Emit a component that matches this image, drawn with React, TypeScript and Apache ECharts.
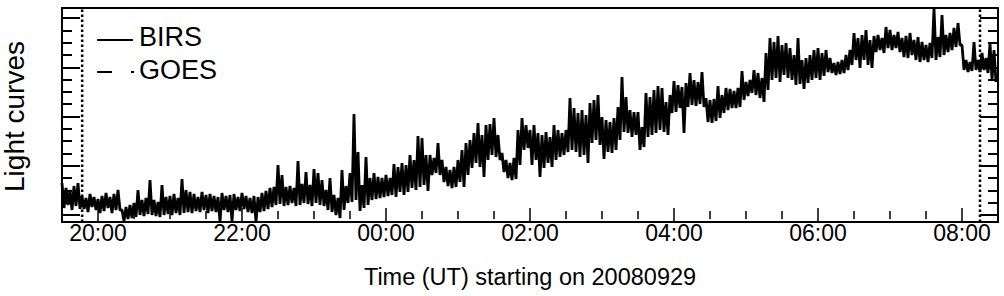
import React, { useEffect, useRef } from "react";
import * as echarts from "echarts";

// BIRS light curve, 20080929, sampled every 100 s starting 19:30 UT (hours since 00:00 UT on 20080929)
const START_HOUR = 19.5;
const CADENCE_S = 100;
const birs: number[] = [
  39,14, 34,17, 32,12, 36,16, 39,13, 26,13, 24,10, 28,15, 25,12, 23,9,
  26,11, 29,14, 25,9, 28,12, 32,12, 12,1, 15,3, 17,4, 19,5, 32,7,
  22,6, 24,8, 42,7, 22,6, 20,5, 37,7, 25,8, 26,7, 28,9, 24,7,
  43,9, 32,10, 30,9, 28,11, 25,10, 30,12, 27,9, 28,11, 26,10, 25,0,
  29,12, 26,10, 27,1, 28,12, 25,11, 29,13, 26,10, 24,9, 26,0, 25,10,
  29,11, 31,13, 34,15, 35,17, 57,18, 47,16, 35,17, 36,19, 34,16, 61,17,
  38,19, 50,18, 37,16, 53,19, 49,17, 42,16, 32,12, 44,10, 27,7, 24,4,
  52,12, 36,19, 49,20, 108,22, 70,11, 37,14, 65,17, 44,22, 49,23, 45,24,
  44,25, 47,26, 44,27, 58,25, 55,30, 59,27, 57,30, 67,34, 62,32, 86,35,
  84,37, 67,31, 67,47, 64,49, 79,47, 62,40, 55,36, 52,34, 55,35, 62,40,
  72,35, 79,47, 82,54, 89,59, 99,55, 87,45, 97,62, 98,67, 104,65, 87,62,
  69,50, 62,44, 59,42, 64,43, 92,57, 104,72, 97,74, 92,57, 97,62, 89,45,
  87,54, 90,59, 85,55, 97,62, 92,65, 89,67, 92,70, 124,72, 114,70, 109,65,
  112,67, 107,59, 119,79, 122,82, 127,77, 105,63, 102,70, 100,69, 104,72, 115,82,
  145,90, 125,89, 112,85, 110,87, 110,72, 95,75, 129,85, 125,87, 132,89, 136,92,
  134,90, 120,87, 127,109, 141,110, 137,114, 135,89, 139,115, 149,117, 142,116, 140,118,
  150,115, 124,100, 122,99, 123,101, 136,104, 127,109, 134,112, 133,114, 131,114, 134,115,
  151,122, 140,126, 142,129, 152,127, 149,124, 144,120, 169,132, 184,142, 180,144, 186,140,
  177,147, 179,144, 174,142, 167,137, 184,138, 162,133, 164,139, 167,142, 172,144, 174,142,
  169,146, 172,150, 164,149, 159,147, 160,148, 162,149, 167,152, 172,157, 189,162, 184,154,
  187,162, 192,157, 182,154, 186,170, 187,172, 184,169, 195,174, 192,172, 187,174, 190,170,
  184,165, 186,164, 189,167, 182,162, 185,160, 180,162, 177,160, 179,164, 214,162, 185,165,
  207,167, 187,170, 189,172, 194,175, 199,177, 177,152, 162,150, 160,151, 180,152, 162,150,
  169,152, 164,149, 179,142, 172,140,
];
const goes: number[] = [];

// interval boundaries (dotted verticals), hours
const intervalMarks = [19.78, 32.25];

// axis extents
const X_MIN = 19.5;
const X_MAX = 32.5;
const Y_MIN = 0;
const Y_MAX = 214;
const X_TICK_FIRST = 20;
const X_TICK_LAST = 32;
const X_TICK_STEP = 2;

const FONT = "'Liberation Sans', Arial, Helvetica, sans-serif";

function hourLabel(v: number): string {
  const h = ((Math.round(v) % 24) + 24) % 24;
  return `${String(h).padStart(2, "0")}:00`;
}

export default function App() {
  const ref = useRef<HTMLDivElement>(null);
  useEffect(() => {
    if (!ref.current) return;
    const chart = echarts.init(ref.current, undefined, { renderer: "svg" });
    const data = birs.map((v, i) => [START_HOUR + (i * CADENCE_S) / 3600, v]);

    const xTickCommon = {
      type: "value",
      gridIndex: 1,
      min: X_TICK_FIRST,
      max: X_TICK_LAST,
      interval: X_TICK_STEP,
      axisLine: { show: false },
      axisTick: { show: true, inside: true, length: 7, lineStyle: { color: "#000", width: 1.5 } },
      minorTick: { show: true, splitNumber: 4, length: 4, lineStyle: { color: "#000", width: 1.5 } },
      splitLine: { show: false },
      minorSplitLine: { show: false },
    };
    const yTickCommon = {
      type: "value",
      gridIndex: 1,
      min: 0,
      max: 16,
      interval: 4,
      offset: 36,
      axisLine: { show: false },
      axisTick: { show: true, inside: true, length: 18, lineStyle: { color: "#000", width: 2 } },
      minorTick: { show: true, splitNumber: 4, length: 10, lineStyle: { color: "#000", width: 2 } },
      axisLabel: { show: false },
      splitLine: { show: false },
      minorSplitLine: { show: false },
    };

    const markSeries = intervalMarks.map((h, i) => ({
      name: `interval-${i}`,
      type: "line",
      xAxisIndex: 0,
      yAxisIndex: 0,
      data: [[h, Y_MIN], [h, Y_MAX]],
      showSymbol: false,
      symbol: "none",
      silent: true,
      lineStyle: { color: "#000", width: 2.5, type: [2.5, 2.5], cap: "butt" },
    }));

    const option: any = {
      animation: false,
      backgroundColor: "#fff",
      textStyle: { fontFamily: FONT, color: "#000" },
      grid: [
        { left: 62, top: 8, width: 936, height: 214, show: true, borderColor: "#000", borderWidth: 2, backgroundColor: "transparent", outerBoundsMode: "none", containLabel: false },
        { left: 98, top: 18, width: 864, height: 197, show: false, outerBoundsMode: "none", containLabel: false },
      ],
      xAxis: [
        { type: "value", gridIndex: 0, min: X_MIN, max: X_MAX, show: false },
        {
          ...xTickCommon,
          position: "bottom",
          offset: 7,
          axisLabel: { show: true, formatter: hourLabel, color: "#000", fontSize: 23, fontFamily: FONT, margin: -1 },
          name: "Time (UT) starting on 20080929",
          nameLocation: "middle",
          nameGap: 43,
          nameTextStyle: { color: "#000", fontSize: 23.5, fontFamily: FONT },
        },
        { ...xTickCommon, position: "top", offset: 10, axisLabel: { show: false } },
      ],
      yAxis: [
        { type: "value", gridIndex: 0, min: Y_MIN, max: Y_MAX, show: false },
        {
          ...yTickCommon,
          position: "left",
          name: "Light curves",
          nameLocation: "middle",
          nameRotate: 90,
          nameGap: 34,
          nameTextStyle: { color: "#000", fontSize: 28, fontFamily: FONT },
        },
        { ...yTickCommon, position: "right" },
      ],
      series: [
        ...markSeries,
        {
          name: "BIRS",
          type: "line",
          xAxisIndex: 0,
          yAxisIndex: 0,
          data,
          showSymbol: false,
          symbol: "none",
          lineStyle: { color: "#000", width: 2.8, join: "bevel" },
        },
        {
          name: "GOES",
          type: "line",
          xAxisIndex: 0,
          yAxisIndex: 0,
          data: goes,
          showSymbol: false,
          lineStyle: { color: "#000", width: 2, type: [15, 17, 3, 0] },
        },
      ],
      graphic: [
        { type: "line", shape: { x1: 97, y1: 40, x2: 133, y2: 40 }, style: { stroke: "#000", lineWidth: 2 } },
        { type: "text", x: 139, y: 37, style: { text: "BIRS", fontSize: 27, fontFamily: FONT, fill: "#000", verticalAlign: "middle", align: "left" } },
        { type: "line", shape: { x1: 97, y1: 72, x2: 112, y2: 72 }, style: { stroke: "#000", lineWidth: 2 } },
        { type: "line", shape: { x1: 131, y1: 72, x2: 134, y2: 72 }, style: { stroke: "#000", lineWidth: 2 } },
        { type: "text", x: 139, y: 70, style: { text: "GOES", fontSize: 27, fontFamily: FONT, fill: "#000", verticalAlign: "middle", align: "left" } },
      ],
    };
    chart.setOption(option);
    return () => chart.dispose();
  }, []);
  return <div ref={ref} style={{ position: "fixed", left: 0, top: 0, width: 1004, height: 296 }} />;
}
